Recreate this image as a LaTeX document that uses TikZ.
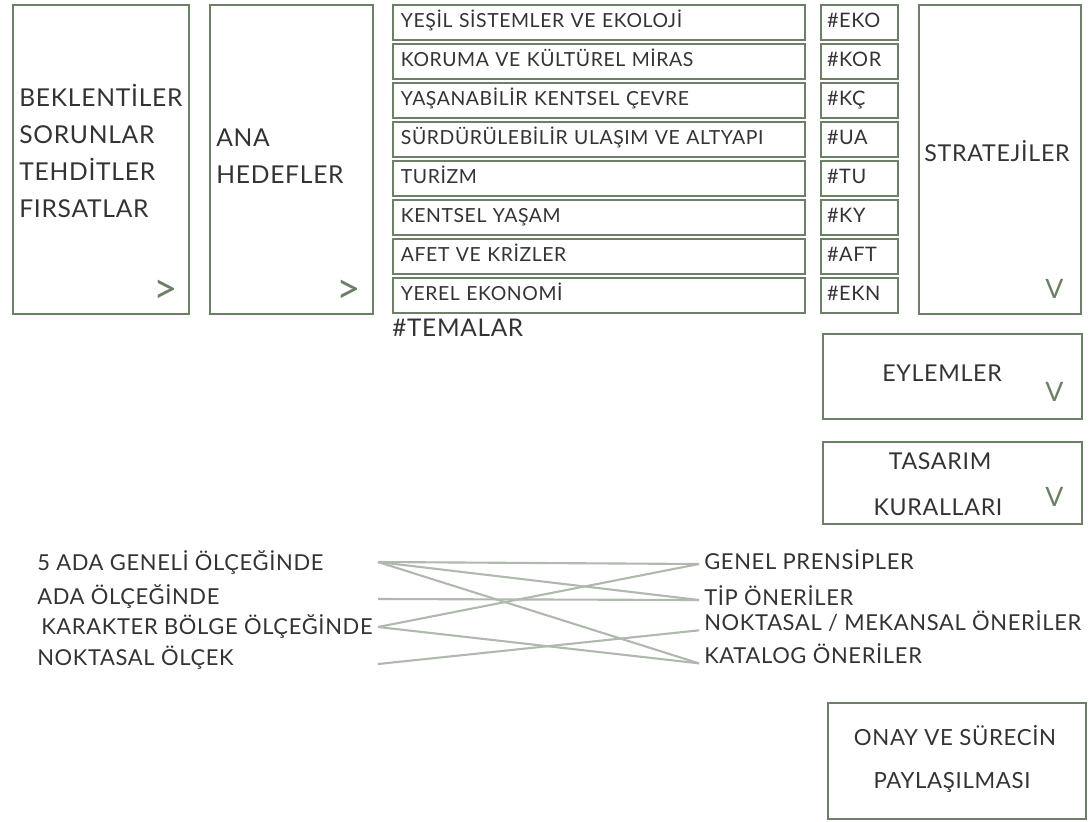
\documentclass[tikz,border=0pt]{standalone}
\usepackage{fontspec}
\setmainfont{Lato}[LetterSpace=3]
\usetikzlibrary{positioning, calc}
\definecolor{framegreen}{HTML}{6D7F66}
\definecolor{linkgrey}{HTML}{AFB9AD}
\definecolor{inkgrey}{HTML}{333333}

\begin{document}
\begin{tikzpicture}[
    x=0.025cm, y=-0.025cm,
    txt/.style={inner sep=0pt, text=inkgrey, text height=1.42ex, text depth=0pt},
    panel/.style={draw=framegreen, line width=1.8pt, inner sep=0pt},
    themebox/.style={panel, txt, line width=1.6pt, minimum width=10.3cm, minimum height=0.875cm,
        text width=9.9cm, inner xsep=0.2cm, align=left, font=\fontsize{13.8}{16}\selectfont},
    tagbox/.style={panel, txt, line width=1.6pt, minimum width=1.925cm, minimum height=0.875cm,
        text width=1.625cm, inner xsep=0.15cm, align=left, font=\fontsize{14.2}{17}\selectfont},
    bigtxt/.style={txt, anchor=west, font=\fontsize{17.5}{20}\selectfont},
    headtxt/.style={txt, font=\fontsize{16.5}{19}\selectfont},
    scaletxt/.style={txt, anchor=west, font=\fontsize{15.6}{18}\selectfont},
    chev/.style={txt, text=framegreen, font=\fontsize{30}{30}\selectfont},
    vmark/.style={txt, text=framegreen, font=\fontsize{19}{19}\selectfont},
    link/.style={draw=linkgrey, line width=1.5pt}
]
\useasboundingbox (0,0) rectangle (1089,821);

% Top row panels
\node[panel, minimum width=4.4cm, minimum height=7.725cm] (issues) at (101,159.5) {};
\node[panel, minimum width=4.075cm, minimum height=7.725cm] (goals) at (291.5,159.5) {};
\node[panel, minimum width=4.05cm, minimum height=7.725cm] (strat) at (1000,159.5) {};
\node[headtxt] (stratlbl) at (997,156) {STRATEJİLER};

\foreach \w [count=\k from 0] in {BEKLENTİLER,SORUNLAR,TEHDİTLER,FIRSATLAR}
    \node[bigtxt] (iss\k) at (19,101+37*\k) {\w};
\node[bigtxt] (goal0) at (216,141) {ANA};
\node[bigtxt] (goal1) at (216,178.5) {HEDEFLER};

% Themes and tags
\foreach \lbl/\tag [count=\i from 0] in {
    YEŞİL SİSTEMLER VE EKOLOJİ/\#EKO,
    KORUMA VE KÜLTÜREL MİRAS/\#KOR,
    YAŞANABİLİR KENTSEL ÇEVRE/\#KÇ,
    SÜRDÜRÜLEBİLİR ULAŞIM VE ALTYAPI/\#UA,
    TURİZM/\#TU,
    KENTSEL YAŞAM/\#KY,
    AFET VE KRİZLER/\#AFT,
    YEREL EKONOMİ/\#EKN}
{
    \node[themebox] (theme\i) at (599,22.5+39*\i) {\lbl};
    \node[tagbox] (tag\i) at (859.5,22.5+39*\i) {\tag};
}
\node[txt, anchor=west, font=\fontsize{17.3}{20}\selectfont] (themes) at (392,331) {\#TEMALAR};

% Chevrons
\node[chev] (chev1) at ($(issues.south east)+(-24.5,-17)$) {>};
\node[chev] (chev2) at ($(goals.south east)+(-25.5,-17)$) {>};
\node[vmark] (vstrat) at ($(strat.south east)+(-28,-21.5)$) {V};

% Right column
\node[panel, minimum width=6.475cm, minimum height=2.125cm] (actions) at (952.5,376.5) {};
\node[headtxt] (actlbl) at (942,376) {EYLEMLER};
\node[vmark] (vact) at ($(actions.south east)+(-29,-24)$) {V};

\node[panel, minimum width=6.475cm, minimum height=2.05cm] (rules) at (952.5,483) {};
\node[headtxt] (rulelbl0) at (940,464) {TASARIM};
\node[headtxt] (rulelbl1) at (938,510) {KURALLARI};
\node[vmark] (vrule) at ($(rules.south east)+(-29,-24)$) {V};

\node[panel, minimum width=6.45cm, minimum height=2.9cm] (approve) at (957,761) {};
\node[headtxt, font=\fontsize{15.8}{18}\selectfont] (applbl0) at (955,740) {ONAY VE SÜRECİN};
\node[headtxt, font=\fontsize{15.8}{18}\selectfont] (applbl1) at (952,783) {PAYLAŞILMASI};

% Scales and outputs
\node[scaletxt] (sc1) at (37,565) {5 ADA GENELİ ÖLÇEĞİNDE};
\node[scaletxt] (sc2) at (37,599) {ADA ÖLÇEĞİNDE};
\node[scaletxt] (sc3) at (41,629) {KARAKTER BÖLGE ÖLÇEĞİNDE};
\node[scaletxt] (sc4) at (37,660) {NOKTASAL ÖLÇEK};

\node[scaletxt, inner xsep=0.125cm] (out1) at (699,564) {GENEL PRENSİPLER};
\node[scaletxt, inner xsep=0.125cm] (out2) at (699,600) {TİP ÖNERİLER};
\node[scaletxt, inner xsep=0.125cm] (out3) at (699,625) {NOKTASAL / MEKANSAL ÖNERİLER};
\node[scaletxt, inner xsep=0.125cm] (out4) at (699,658) {KATALOG ÖNERİLER};

\coordinate (s1) at (378,562);
\coordinate (s2) at (378,599);
\coordinate (s3) at (378,627);
\coordinate (s4) at (378,664);

\draw[link] (s1) -- (out1.west);
\draw[link] (s1) -- (out2.west);
\draw[link] (s1) -- (out4.south west);
\draw[link] (s2) -- (out2.west);
\draw[link] (s3) -- (out1.west);
\draw[link] (s3) -- (out4.south west);
\draw[link] (s4) -- (out3.south west);

\end{tikzpicture}
\end{document}
